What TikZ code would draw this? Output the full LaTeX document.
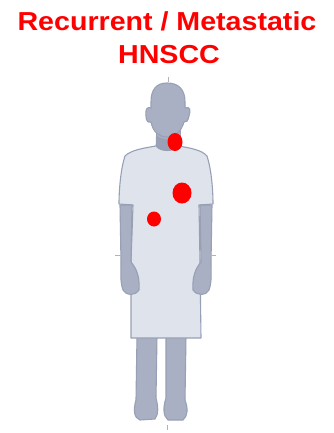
\documentclass[tikz,border=0pt]{standalone}
\usepackage{fontspec}
\setmainfont{Liberation Sans}
\begin{document}
\begin{tikzpicture}[x=1pt,y=-1pt,
  skin/.style={fill=bodygray,draw=edgegray,line width=1.1pt,line join=round},
  cloth/.style={fill=shirtgray,draw=edgegray,line width=1.1pt,line join=round},
  lesion/.style={fill=lesionred,draw=none},
  tick/.style={draw=edgegray!80,line width=0.8pt},
  title/.style={text=lesionred,font=\fontsize{26}{33}\selectfont\bfseries,anchor=base,xscale=1.1,inner sep=0pt}]
\definecolor{bodygray}{HTML}{A9B0C4}
\definecolor{shirtgray}{HTML}{DFE3EC}
\definecolor{edgegray}{HTML}{98A0B5}
\definecolor{neckshade}{HTML}{9AA1B6}
\definecolor{lesionred}{HTML}{FF0000}
\useasboundingbox (0,0) rectangle (334,433);

% title
\node[title] (t1) at (167,31) {Recurrent / Metastatic};
\node[title] (t2) at (169,64) {HNSCC};

% legs
\draw[skin] (137,336) -- (157,336) -- (156,398) .. controls (158,406) and (159,414) .. (155,419)
  -- (140,420) .. controls (134,418) and (133,410) .. (136,400) -- cycle;
\draw[skin] (166,336) -- (186,336) -- (185,400) .. controls (188,408) and (188,416) .. (183,420)
  -- (168,420) .. controls (163,416) and (163,407) .. (166,398) -- cycle;

% neck
\draw[skin] (157,125) -- (180,125) -- (181,152) -- (156,152) -- cycle;

% head with ears
\draw[skin] (167,83) .. controls (179,83) and (185,90) .. (185,102)
  -- (185,108) .. controls (190,106) and (191,110) .. (189,116)
  .. controls (188,121) and (186,123) .. (184,122)
  .. controls (181,132) and (175,137) .. (167,137)
  .. controls (159,137) and (153,132) .. (151,122)
  .. controls (148,123) and (146,121) .. (146,116)
  .. controls (145,110) and (147,106) .. (151,108)
  -- (151,102) .. controls (151,90) and (156,83) .. (167,83) -- cycle;
% shadow under the chin
\fill[neckshade] (157,136) .. controls (162,140) and (173,140) .. (180,136) -- (181,150) -- (156,150) -- cycle;

% dress with short sleeves
\draw[cloth] (156,146) .. controls (161,152) and (173,152) .. (179,146)
  .. controls (190,148) and (202,150) .. (207,156)
  .. controls (211,168) and (213,188) .. (213,204)
  -- (199,205) -- (200,262) -- (201,338)
  -- (131,338) -- (131,262) -- (133,205)
  -- (119,204) .. controls (119,188) and (121,168) .. (125,156)
  .. controls (131,150) and (144,148) .. (156,146) -- cycle;

% arms and hands
\draw[skin] (120,205) -- (132,205) -- (131,262)
  .. controls (136,268) and (140,276) .. (139,290)
  .. controls (135,296) and (126,296) .. (123,290)
  .. controls (120,282) and (121,272) .. (121,262) -- cycle;
\draw[skin] (212,205) -- (200,205) -- (201,262)
  .. controls (196,268) and (192,276) .. (193,290)
  .. controls (197,296) and (206,296) .. (209,290)
  .. controls (212,282) and (211,272) .. (211,262) -- cycle;

% small ticks
\draw[tick] (168,77) -- (168,82);
\draw[tick] (115,255) -- (121,255);
\draw[tick] (210,255) -- (216,255);
\draw[tick] (167,425) -- (167,430);

% lesions
\fill[lesion] (175,142) ellipse [x radius=7.5,y radius=9];
\fill[lesion] (182,193) ellipse [x radius=9.5,y radius=10.5];
\fill[lesion] (154,219) ellipse [x radius=7,y radius=7.5];
\end{tikzpicture}
\end{document}
